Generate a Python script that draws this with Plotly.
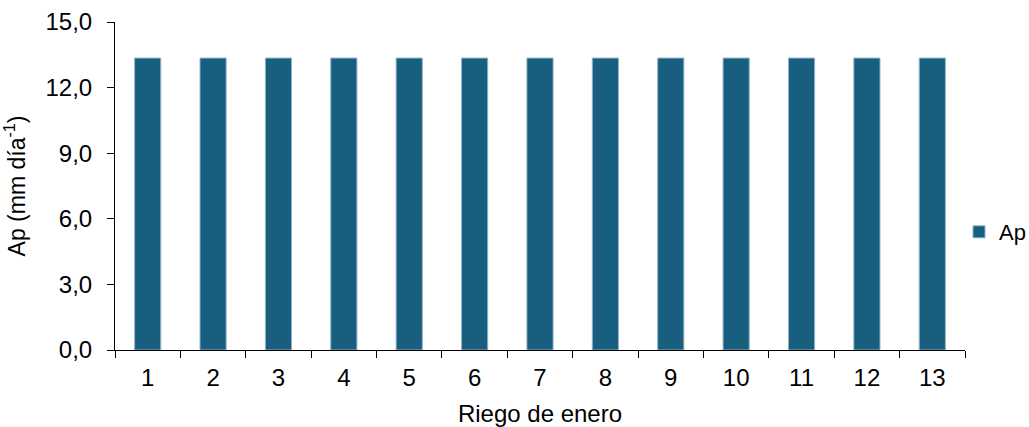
import plotly.graph_objects as go

categories = [str(i) for i in range(1, 14)]
ap_values = [13.35] * 13
y_ticks = [0, 3, 6, 9, 12, 15]

fig = go.Figure()
fig.add_trace(go.Bar(
    x=categories, y=ap_values, name="Ap",
    marker=dict(color="#175E7F", line=dict(color="#8FB3C6", width=1)),
    showlegend=True,
))

font = "Liberation Sans, Arial, sans-serif"
fig.update_layout(
    width=1029, height=427,
    margin=dict(l=115, r=64, t=22, b=77),
    paper_bgcolor="white", plot_bgcolor="white",
    separators=", ",
    bargap=0.6,
    font=dict(family=font, size=24, color="black"),
    showlegend=True,
    legend=dict(xref="container", yref="container", x=965 / 1029, y=1 - 232 / 427,
                xanchor="left", yanchor="middle", indentation=-6,
                font=dict(size=22), itemwidth=30, bgcolor="rgba(0,0,0,0)"),
    xaxis=dict(
        type="category", tickson="boundaries", ticks="outside", ticklen=7,
        tickcolor="black", showline=True, linecolor="black", linewidth=1,
        showgrid=False, tickfont=dict(size=24), automargin=False,
        ticklabelstandoff=6,
        title=dict(text="Riego de enero", font=dict(size=24), standoff=18),
    ),
    yaxis=dict(
        range=[0, 15], tickvals=y_ticks, tickformat=".1f",
        ticks="outside", ticklen=7, tickcolor="black",
        showline=True, linecolor="black", linewidth=1, automargin=False,
        showgrid=False, zeroline=False, tickfont=dict(size=24),
        ticklabelstandoff=10,
        title=dict(text="Ap (mm día<sup>-1</sup>)", font=dict(size=23), standoff=20),
    ),
)
fig.write_html("out.html", config={"displayModeBar": False},
               post_script="document.body.style.margin='0';")
